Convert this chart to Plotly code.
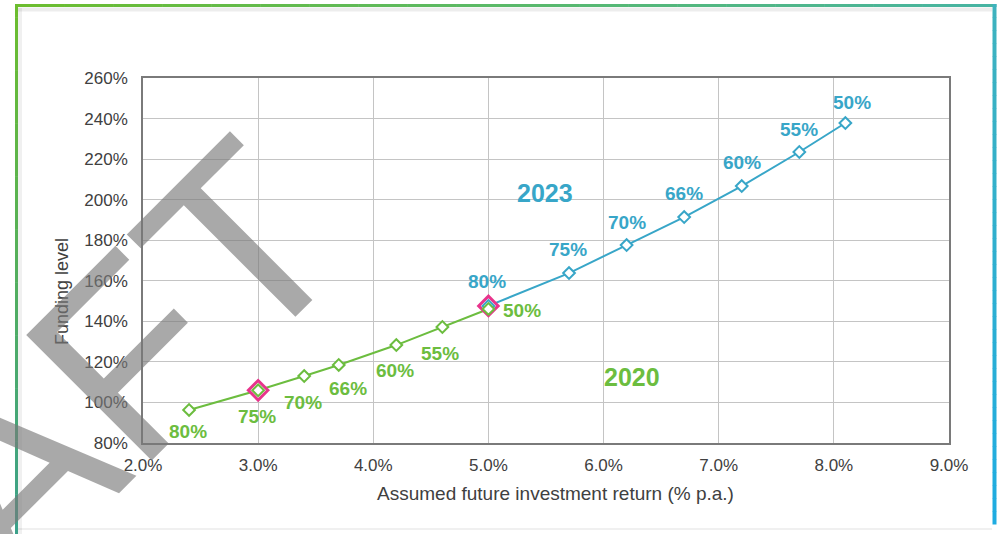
import plotly.graph_objects as go

# ---------------- data ----------------
returns_2020 = [2.4, 3.0, 3.4, 3.7, 4.2, 4.6, 5.0]
funding_2020 = [96.3, 106.0, 113.0, 118.5, 128.3, 137.2, 146.1]
labels_2020 = ["80%", "75%", "70%", "66%", "60%", "55%", "50%"]

returns_2023 = [5.0, 5.7, 6.2, 6.7, 7.2, 7.7, 8.1]
funding_2023 = [147.6, 163.8, 177.6, 191.4, 206.7, 223.5, 237.8]
labels_2023 = ["80%", "75%", "70%", "66%", "60%", "55%", "50%"]

highlight_2020 = 1   # index of highlighted point in 2020 series
highlight_2023 = 0   # index of highlighted point in 2023 series

series_names = ["2020", "2023"]
series_name_pos = {"2020": (6.25, 112.5), "2023": (5.49, 203.3)}

x_title = "Assumed future investment return (% p.a.)"
y_title = "Funding level"
watermark = "DRAFT"

# ---------------- styles ----------------
GREEN = "#6cbd3f"
BLUE = "#38a6c8"
PINK = "#e8348c"
FONT = "Liberation Sans, Arial, sans-serif"
TXT = "#404040"

W, H = 1002, 534
L, R, T, B = 143, 53, 78, 91
PW, PH = W - L - R, H - T - B


def px(x):
    return (x - L) / PW


def py(y):
    return (H - B - y) / PH


off_2020 = [(-1, -22), (-1, -26), (-1, -26), (9, -24), (-1, -25), (-2, -26), (34, -2)]
off_2023 = [(-1, 24), (-1, 24), (0, 23), (0, 24), (0, 24), (0, 23), (7, 21)]

fig = go.Figure()

# lines
fig.add_trace(go.Scatter(x=returns_2020, y=funding_2020, mode="lines",
                         line=dict(color=GREEN, width=2), showlegend=False, hoverinfo="skip"))
fig.add_trace(go.Scatter(x=returns_2023, y=funding_2023, mode="lines",
                         line=dict(color=BLUE, width=2), showlegend=False, hoverinfo="skip"))
# highlight markers
fig.add_trace(go.Scatter(
    x=[returns_2020[highlight_2020], returns_2023[highlight_2023]],
    y=[funding_2020[highlight_2020], funding_2023[highlight_2023]],
    mode="markers",
    marker=dict(symbol="diamond", size=15, color="white", line=dict(color=PINK, width=3)),
    showlegend=False, hoverinfo="skip"))
# series markers
fig.add_trace(go.Scatter(x=returns_2023, y=funding_2023, mode="markers", name="2023",
                         marker=dict(symbol="diamond", size=9, color="white",
                                     line=dict(color=BLUE, width=2)), showlegend=False))
fig.add_trace(go.Scatter(x=returns_2020, y=funding_2020, mode="markers", name="2020",
                         marker=dict(symbol="diamond", size=9, color="white",
                                     line=dict(color=GREEN, width=2)), showlegend=False))

annotations = []
for xv, yv, lab, (dx, dy) in zip(returns_2020, funding_2020, labels_2020, off_2020):
    annotations.append(dict(x=xv, y=yv, text="<b>%s</b>" % lab, showarrow=False,
                            xshift=dx, yshift=dy, font=dict(family=FONT, size=19, color=GREEN)))
for xv, yv, lab, (dx, dy) in zip(returns_2023, funding_2023, labels_2023, off_2023):
    annotations.append(dict(x=xv, y=yv, text="<b>%s</b>" % lab, showarrow=False,
                            xshift=dx, yshift=dy, font=dict(family=FONT, size=19, color=BLUE)))
for name, col in zip(series_names, [GREEN, BLUE]):
    xv, yv = series_name_pos[name]
    annotations.append(dict(x=xv, y=yv, text="<b>%s</b>" % name, showarrow=False,
                            font=dict(family=FONT, size=25, color=col)))

# axis titles
annotations.append(dict(xref="paper", yref="paper", x=px(555), y=py(493), text=x_title,
                        xanchor="center", yanchor="middle",
                        showarrow=False, font=dict(family=FONT, size=19, color=TXT)))
annotations.append(dict(xref="paper", yref="paper", x=px(62), y=py(292), text=y_title,
                        xanchor="center", yanchor="middle",
                        textangle=-90, showarrow=False, font=dict(family=FONT, size=18, color=TXT)))

# watermark
annotations.append(dict(xref="paper", yref="paper", x=px(-8), y=py(493), text=watermark,
                        textangle=-45, showarrow=False, xanchor="center", yanchor="middle",
                        font=dict(family=FONT, size=258, color="rgba(120,120,120,0.64)")))

# border gradient
shapes = []


def lerp(c1, c2, t):
    return "rgb(%d,%d,%d)" % tuple(round(a + (b - a) * t) for a, b in zip(c1, c2))


N = 40
top_c1, top_c2 = (108, 189, 47), (70, 180, 165)
for i in range(N):
    x0 = 15 + (996 - 15) * i / N
    x1 = 15 + (996 - 15) * (i + 1) / N + 0.5
    shapes.append(dict(type="line", xref="paper", yref="paper", x0=px(x0), x1=px(x1),
                       y0=py(5.5), y1=py(5.5), line=dict(color=lerp(top_c1, top_c2, i / N), width=3)))
left_c1, left_c2 = (108, 189, 47), (58, 160, 140)
for i in range(N):
    y0 = 4 + (534 - 4) * i / N
    y1 = 4 + (534 - 4) * (i + 1) / N + 0.5
    shapes.append(dict(type="line", xref="paper", yref="paper", x0=px(16.5), x1=px(16.5),
                       y0=py(y0), y1=py(y1), line=dict(color=lerp(left_c1, left_c2, i / N), width=3)))
right_c1, right_c2 = (62, 178, 190), (30, 172, 226)
for i in range(N):
    y0 = 4 + (524 - 4) * i / N
    y1 = 4 + (524 - 4) * (i + 1) / N + 0.5
    shapes.append(dict(type="line", xref="paper", yref="paper", x0=px(994.5), x1=px(994.5),
                       y0=py(y0), y1=py(y1), line=dict(color=lerp(right_c1, right_c2, i / N), width=4)))
# soft shadows
shapes.append(dict(type="line", xref="paper", yref="paper", x0=px(18), x1=px(992),
                   y0=py(9.5), y1=py(9.5), line=dict(color="rgba(0,0,0,0.07)", width=4)))
shapes.append(dict(type="line", xref="paper", yref="paper", x0=px(20), x1=px(20),
                   y0=py(8), y1=py(534), line=dict(color="rgba(0,0,0,0.06)", width=4)))
shapes.append(dict(type="line", xref="paper", yref="paper", x0=px(18), x1=px(992),
                   y0=py(529), y1=py(529), line=dict(color="rgba(0,0,0,0.08)", width=1.5)))

fig.update_layout(
    width=W, height=H,
    margin=dict(l=L, r=R, t=T, b=B, pad=0),
    paper_bgcolor="white", plot_bgcolor="white",
    font=dict(family=FONT, color=TXT),
    showlegend=False,
    annotations=annotations,
    shapes=shapes,
    xaxis=dict(range=[2, 9], dtick=1, tick0=2, tickformat=".1f", ticksuffix="%",
               showgrid=True, gridcolor="#c4c4c4", gridwidth=1,
               showline=True, linecolor="#7a7a7a", linewidth=1.5, mirror=True,
               ticks="", zeroline=False, ticklabelstandoff=6,
               tickfont=dict(family=FONT, size=17, color=TXT)),
    yaxis=dict(range=[80, 260], dtick=20, tick0=80, ticksuffix="%",
               showgrid=True, gridcolor="#c4c4c4", gridwidth=1,
               showline=True, linecolor="#7a7a7a", linewidth=1.5, mirror=True,
               ticks="", zeroline=False, ticklabelstandoff=10,
               tickfont=dict(family=FONT, size=17, color=TXT)),
)

fig.write_html(
    "out.html",
    config={"displayModeBar": False},
    post_script="document.body.style.margin='0';document.body.style.overflow='hidden';",
)
